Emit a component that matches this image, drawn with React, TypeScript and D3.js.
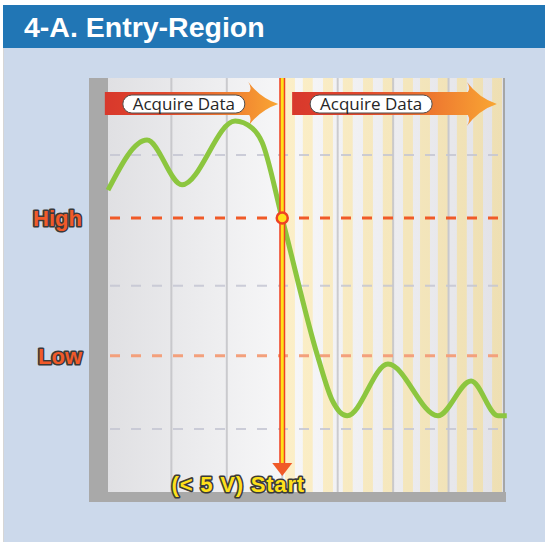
import React from "react";
import * as d3 from "d3";

// signal trace (time in µs, level in % of full scale)
const timeUs = [0, 9.85, 18.7, 32.1, 36.4, 38.9, 43.9, 53.0, 56.6, 60.4, 70.7, 83.3, 91.7, 98.5, 100.7];
const signalPct = [72.9, 85.0, 74.2, 89.6, 87.9, 84.5, 66.4, 32.6, 22.2, 18.4, 30.9, 18.4, 26.8, 18.4, 18.4];

const gridTimes = [16, 30, 44, 58, 72, 86];
const refLevels = [81.4, 49.8, 15.2];
const highLevel = 66.2;
const lowLevel = 32.9;
const triggerTime = 44;
const sampleTimes = [44.7, 49.2, 54.3, 59.3, 64.4, 69.4, 74.5, 78.8, 83.3, 88.1, 92.2, 97.0];
const sampleWidth = 2.5;
const acquireStart = [-0.8, 46.5];
const acquireEnd = [43, 98.2];
const acquireLabel = "Acquire Data";
const title = "4-A. Entry-Region";
const startLabel = "(< 5 V) Start";

const W = 545;
const H = 542;
const plot = { left: 108, right: 503, top: 78, bottom: 492 };

function arrowPath(x0: number, x1: number) {
  const hx = x1 - 29;
  return `M${x0},92 L${hx},92 Q${hx + 3},88 ${hx - 1},82 Q${hx + 11},98 ${x1},104 Q${hx + 11},110 ${hx - 1},126 Q${hx + 3},120 ${hx},115 L${x0},115 Z`;
}

export default function App() {
  const x = d3.scaleLinear().domain([0, 100]).range([plot.left, 504]);
  const y = d3.scaleLinear().domain([0, 100]).range([plot.bottom, plot.top]);

  const line = d3
    .line<number>()
    .x((d, i) => x(timeUs[i]))
    .y((d) => y(d))
    .curve(d3.curveMonotoneX);

  const tx = x(triggerTime);
  const outline = {
    stroke: "#3a3a3a",
    strokeWidth: 3.2,
    strokeLinejoin: "round" as const,
    paintOrder: "stroke" as const,
  };

  return (
    <svg
      width={W}
      height={H}
      style={{ position: "absolute", left: 0, top: 0 }}
      fontFamily="'Liberation Sans', Arial, sans-serif"
    >
      <defs>
        <linearGradient id="bg" x1="0" x2="1" y1="0" y2="0">
          <stop offset="0%" stopColor="#e0e0e3" />
          <stop offset="45%" stopColor="#f7f7f8" />
          <stop offset="100%" stopColor="#e2e2e7" />
        </linearGradient>
        <linearGradient id="stripe" gradientUnits="userSpaceOnUse" x1={tx} x2={plot.right} y1="0" y2="0">
          <stop offset="0%" stopColor="#fcefc8" />
          <stop offset="100%" stopColor="#eedfb3" />
        </linearGradient>
        <linearGradient id="arrow" x1="0" x2="1" y1="0" y2="0">
          <stop offset="0%" stopColor="#d8382c" />
          <stop offset="35%" stopColor="#e2482c" />
          <stop offset="100%" stopColor="#f9a633" />
        </linearGradient>
      </defs>

      {/* header + panel */}
      <rect x={0} y={0} width={W} height={H} fill="#ffffff" />
      <rect x={3} y={48} width={W - 3} height={H - 48} fill="#ccd9eb" />
      <line x1={3.5} x2={3.5} y1={5} y2={H} stroke="#d6d6d6" strokeWidth={1} />
      <rect x={3} y={5} width={W - 3} height={43} fill="#2176b5" />
      <text x={24} y={37} fill="#ffffff" fontSize={28.5} fontWeight="bold">
        {title}
      </text>

      {/* frame */}
      <rect x={89} y={plot.top} width={plot.left - 89} height={502 - plot.top} fill="#a9a9a9" />
      <rect x={89} y={plot.bottom} width={506 - 89} height={10} fill="#a9a9a9" />
      <rect
        x={plot.left}
        y={plot.top}
        width={plot.right - plot.left}
        height={plot.bottom - plot.top}
        fill="url(#bg)"
      />

      {/* sampling windows */}
      {sampleTimes.map((t, i) => (
        <rect
          key={i}
          x={x(t)}
          y={plot.top}
          width={Math.min(x(t + sampleWidth), plot.right) - x(t)}
          height={plot.bottom - plot.top}
          fill="url(#stripe)"
        />
      ))}
      <rect x={plot.right} y={plot.top} width={2} height={plot.bottom - plot.top} fill="#a6a6a6" />

      {/* vertical grid */}
      {gridTimes.map((t, i) => (
        <line
          key={i}
          x1={x(t)}
          x2={x(t)}
          y1={plot.top}
          y2={plot.bottom}
          stroke="#bdbdc2"
          strokeOpacity={0.75}
          strokeWidth={2}
        />
      ))}

      {/* reference levels */}
      {refLevels.map((v, i) => (
        <line
          key={i}
          x1={plot.left + 2}
          x2={507}
          y1={y(v)}
          y2={y(v)}
          stroke="#c4c6d2"
          strokeOpacity={0.85}
          strokeWidth={2}
          strokeDasharray="10 11"
        />
      ))}
      <line
        x1={plot.left + 2}
        x2={505}
        y1={y(highLevel)}
        y2={y(highLevel)}
        stroke="#f05a28"
        strokeWidth={3}
        strokeDasharray="10 11"
      />
      <line
        x1={plot.left + 2}
        x2={505}
        y1={y(lowLevel)}
        y2={y(lowLevel)}
        stroke="#f3a07c"
        strokeWidth={3}
        strokeDasharray="10 11"
      />

      <text x={82} y={y(highLevel) + 8} textAnchor="end" fontSize={22} fontWeight="bold" fill="#f15a29" style={outline}>
        High
      </text>
      <text x={82} y={y(lowLevel) + 8} textAnchor="end" fontSize={22} fontWeight="bold" fill="#f15a29" style={outline}>
        Low
      </text>

      {/* acquire arrows */}
      {acquireStart.map((s, i) => {
        const x0 = x(s);
        const x1 = x(acquireEnd[i]);
        const px = x0 + 18;
        return (
          <g key={i}>
            <path d={arrowPath(x0, x1)} fill="url(#arrow)" />
            <rect x={px} y={95} width={122} height={18} rx={9} fill="#ffffff" stroke="#505050" strokeWidth={1} />
            <text
              x={px + 61}
              y={110}
              textAnchor="middle"
              fontSize={17}
              fontFamily="'Open Sans', sans-serif"
              fill="#262626"
            >
              {acquireLabel}
            </text>
          </g>
        );
      })}

      {/* signal */}
      <path
        d={line(signalPct) || ""}
        fill="none"
        stroke="#8cc63f"
        strokeWidth={5}
        strokeLinejoin="round"
      />

      {/* trigger */}
      <rect x={tx - 3} y={plot.top} width={6} height={465 - plot.top} fill="#ef4123" />
      <rect x={tx - 1.5} y={plot.top} width={3} height={465 - plot.top} fill="#ffe01a" />
      <path d={`M${tx - 10},463 L${tx + 10},463 L${tx},476 Z`} fill="#f05a28" />
      <circle cx={tx} cy={y(highLevel)} r={5.5} fill="#ffe01a" stroke="#ef4123" strokeWidth={2.5} />

      <text
        x={tx - 44}
        y={492}
        textAnchor="middle"
        fontSize={22}
        fontWeight="bold"
        letterSpacing={0.8}
        fill="#ffe01a"
        style={outline}
      >
        {startLabel}
      </text>
    </svg>
  );
}
